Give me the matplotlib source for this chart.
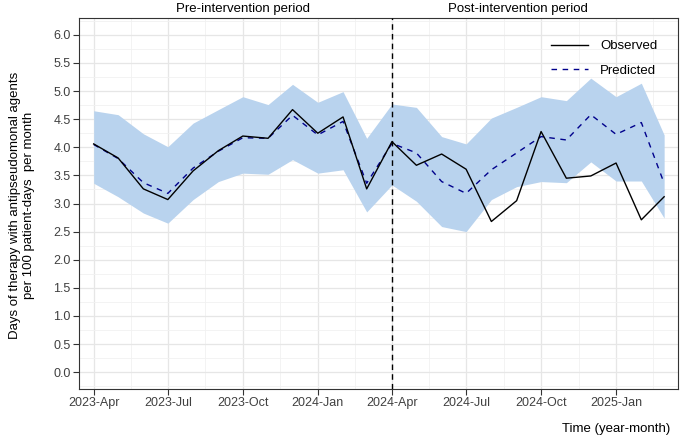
import numpy as np
import pandas as pd
import matplotlib
matplotlib.use("Agg")
import matplotlib.pyplot as plt
import matplotlib.dates as mdates
from matplotlib.ticker import FixedLocator, MultipleLocator

plt.rcParams['font.family'] = ['Liberation Sans', 'DejaVu Sans']

# monthly data, 2023-Apr .. 2025-Mar
months = pd.date_range("2023-04-01", "2025-03-01", freq="MS")
observed = [4.06, 3.81, 3.26, 3.07, 3.58, 3.94, 4.20, 4.16, 4.67, 4.25, 4.54, 3.26,
            4.10, 3.68, 3.88, 3.61, 2.68, 3.05, 4.28, 3.45, 3.49, 3.72, 2.71, 3.12]
predicted = [4.05, 3.80, 3.37, 3.18, 3.63, 3.93, 4.17, 4.16, 4.57, 4.22, 4.46, 3.36,
             4.07, 3.90, 3.39, 3.18, 3.60, 3.90, 4.19, 4.13, 4.58, 4.23, 4.44, 3.36]
upper = [4.65, 4.58, 4.24, 4.01, 4.43, 4.67, 4.90, 4.76, 5.12, 4.80, 4.99, 4.16,
         4.77, 4.71, 4.19, 4.06, 4.52, 4.71, 4.90, 4.83, 5.23, 4.90, 5.14, 4.22]
lower = [3.36, 3.12, 2.83, 2.65, 3.07, 3.39, 3.54, 3.52, 3.78, 3.54, 3.60, 2.85,
         3.33, 3.04, 2.59, 2.50, 3.07, 3.30, 3.39, 3.37, 3.74, 3.40, 3.40, 2.74]
intervention = pd.Timestamp("2024-04-01")

fig = plt.figure(figsize=(6.87, 4.41), dpi=100)
ax = fig.add_axes([79/687, 1-389/441, (678-79)/687, (389-18)/441])

ax.fill_between(months, lower, upper, color='#B9D3EE', linewidth=0, zorder=2)
ax.plot(months, observed, color='black', lw=1.0, label='Observed', zorder=4)
ax.plot(months, predicted, color='#00008B', lw=1.0, ls=(0, (4, 4)), label='Predicted', zorder=3)
ax.axvline(intervention, color='black', lw=1.0, ls=(0, (4, 3)), zorder=5)

# axes
ax.set_xlim(pd.Timestamp("2023-03-14"), pd.Timestamp("2025-03-18"))
ax.set_ylim(-0.3, 6.3)
major = pd.date_range("2023-04-01", "2025-04-01", freq="3MS")
ax.xaxis.set_major_locator(FixedLocator(mdates.date2num(major)))
ax.xaxis.set_major_formatter(mdates.DateFormatter('%Y-%b'))
mids = (mdates.date2num(major[:-1]) + mdates.date2num(major[1:])) / 2
ax.xaxis.set_minor_locator(FixedLocator(mids))
ax.yaxis.set_major_locator(MultipleLocator(0.5))
ax.yaxis.set_minor_locator(MultipleLocator(0.25))
ax.yaxis.set_major_formatter(matplotlib.ticker.FormatStrFormatter('%.1f'))

ax.grid(which='major', color='#E6E6E6', lw=0.9, zorder=0)
ax.grid(which='minor', color='#F1F1F1', lw=0.6, zorder=0)
ax.set_axisbelow(True)
ax.tick_params(which='major', length=4, width=0.8, color='#333333',
               labelsize=9, labelcolor='#404040', pad=2)
ax.tick_params(which='minor', length=0)
for s in ax.spines.values():
    s.set_color('#333333')
    s.set_linewidth(0.8)

# period labels
ax.annotate('Pre-intervention period', xy=(mdates.date2num(pd.Timestamp("2023-10-01")), 1.0),
            xycoords=('data', 'axes fraction'), xytext=(0, 2), textcoords='offset points',
            ha='center', va='bottom', fontsize=9.5, color='black')
ax.annotate('Post-intervention period', xy=(mdates.date2num(pd.Timestamp("2024-09-02")), 1.0),
            xycoords=('data', 'axes fraction'), xytext=(0, 2), textcoords='offset points',
            ha='center', va='bottom', fontsize=9.5, color='black')

ax.legend(loc='upper right', frameon=False, fontsize=9.5, handlelength=2.8,
          handletextpad=0.9, labelspacing=0.95, bbox_to_anchor=(0.985, 0.973))

fig.text(22/687, 0.535, "Days of therapy with antipseudomonal agents\nper 100 patient-days  per month",
         rotation=90, ha='center', va='center', multialignment='center', fontsize=9.5)
fig.text(670/687, 1-429/441, "Time (year-month)", ha='right', va='center', fontsize=9.5)

fig.savefig("out.png", dpi=100)
